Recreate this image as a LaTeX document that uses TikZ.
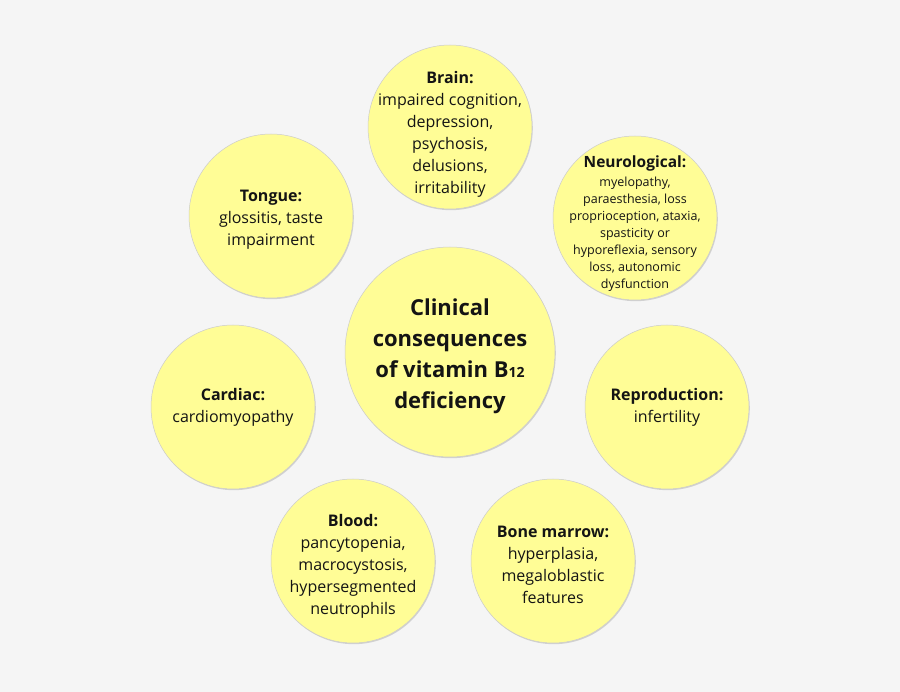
\documentclass[tikz,border=0pt]{standalone}
\usepackage{fontspec}
\setmainfont{Open Sans}
\usetikzlibrary{shadows}
\definecolor{bubbleFill}{RGB}{255,253,150}
\definecolor{pageBg}{RGB}{245,245,245}
\definecolor{inkDark}{RGB}{20,20,20}

\begin{document}
\begin{tikzpicture}[x=1pt, y=-1pt,
    bubble/.style={circle, fill=bubbleFill, draw=black!20, line width=0.5pt,
      minimum size=164pt, inner sep=0pt,
      drop shadow={shadow xshift=0.8pt, shadow yshift=-1.2pt, opacity=0.3}},
    hub/.style={bubble, minimum size=210pt},
    txt/.style={align=center, text=inkDark, font=\fontsize{16}{22}\selectfont},
    smalltxt/.style={align=center, text=inkDark, font=\fontsize{12.5}{17}\selectfont}]
    % Background
    \fill[pageBg] (0,0) rectangle (900,692);
    \useasboundingbox (0,0) rectangle (900,692);
    % Central circle
    \node[hub] (hub) at (450,352) {};
    \node[txt, font=\fontsize{22}{31}\selectfont\bfseries] (hubText) at ([yshift=-4pt]hub)
      {Clinical\\consequences\\of vitamin B{\fontsize{14}{14}\selectfont 12}\\deficiency};
    % Surrounding circles
    \node[bubble] (brain) at (450,127) {};
    \node[txt] (brainText) at ([yshift=-7pt]brain)
      {\textbf{Brain:}\\impaired cognition,\\depression,\\psychosis,\\delusions,\\irritability};
    \node[bubble] (neuro) at (635,218) {};
    \node[smalltxt] (neuroText) at ([yshift=-6pt]neuro)
      {{\fontsize{15.5}{17}\selectfont\bfseries Neurological:}\\[2pt]myelopathy,\\paraesthesia, loss\\proprioception, ataxia,\\spasticity or\\hyporeflexia, sensory\\loss, autonomic\\dysfunction};
    \node[bubble] (tongue) at (271,216) {};
    \node[txt] (tongueText) at ([yshift=-4pt]tongue)
      {\textbf{Tongue:}\\glossitis, taste\\impairment};
    \node[bubble] (cardiac) at (233,407) {};
    \node[txt] (cardiacText) at (cardiac)
      {\textbf{Cardiac:}\\cardiomyopathy};
    \node[bubble] (repro) at (667,407) {};
    \node[txt] (reproText) at (repro)
      {\textbf{Reproduction:}\\infertility};
    \node[bubble] (blood) at (353,561) {};
    \node[txt] (bloodText) at ([yshift=-5pt]blood)
      {\textbf{Blood:}\\pancytopenia,\\macrocystosis,\\hypersegmented\\neutrophils};
    \node[bubble] (marrow) at (553,561) {};
    \node[txt] (marrowText) at ([yshift=-3.5pt]marrow)
      {\textbf{Bone marrow:}\\hyperplasia,\\megaloblastic\\features};
\end{tikzpicture}
\end{document}
